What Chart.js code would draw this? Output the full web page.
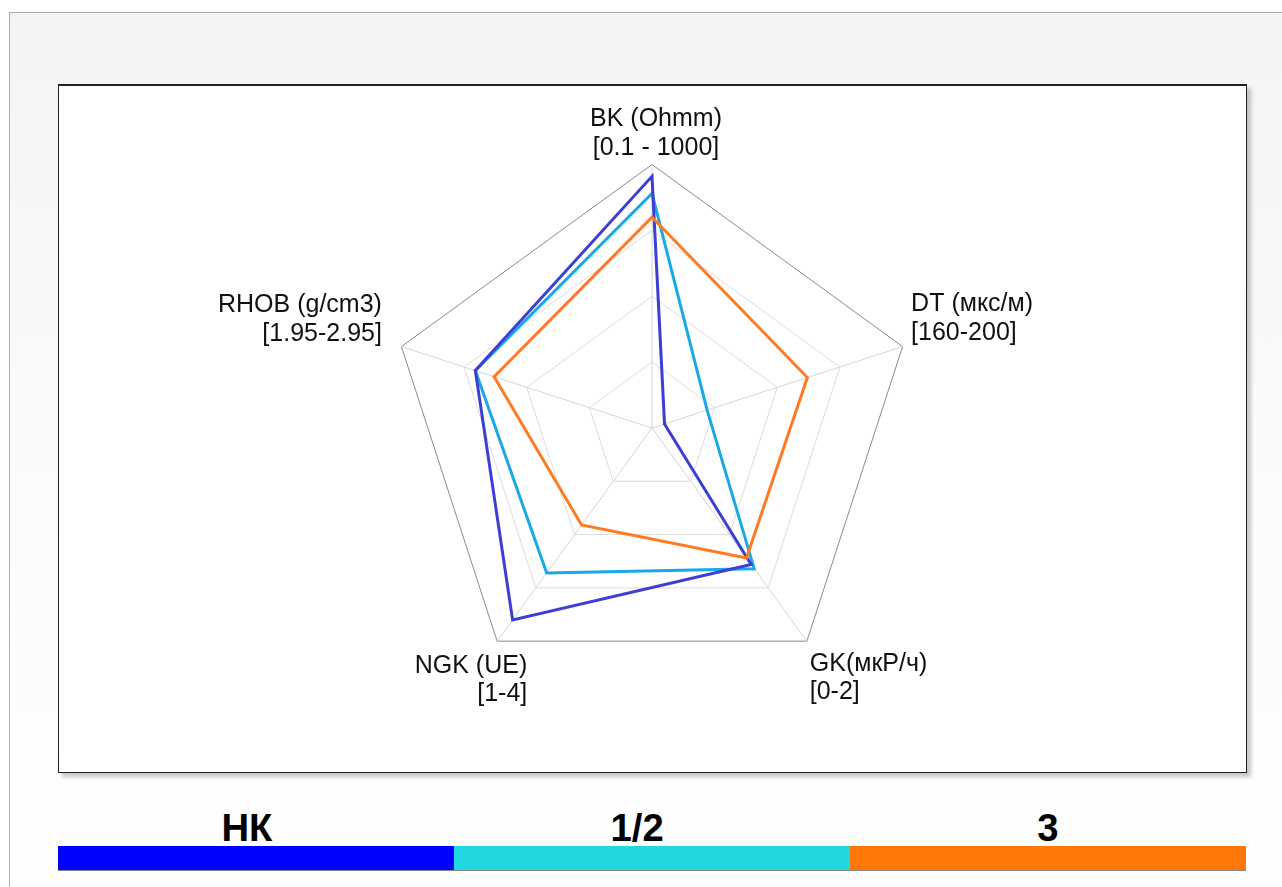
<!DOCTYPE html>
<html>
<head>
<meta charset="utf-8">
<script src="https://cdn.jsdelivr.net/npm/chart.js@4"></script>
<style>
  html, body { margin: 0; padding: 0; background: #fff; }
  body { width: 1282px; height: 887px; position: relative; overflow: hidden; font-family: "Liberation Sans", Arial, sans-serif; }
  #panel {
    position: absolute; left: 9px; top: 12px; right: 0; bottom: 0;
    border-top: 1px solid #a8a8a8; border-left: 1px solid #b0b0b0;
    background: linear-gradient(#f4f4f4, #fcfcfc 60%, #fefefe);
  }
  #box {
    position: absolute; left: 58px; top: 84px; width: 1187px; height: 686px;
    background: #fff; border: 1px solid #222; border-top-width: 2px;
    box-shadow: 4px 4px 4px rgba(0,0,0,0.22); overflow: hidden;
  }
  #myChart { position: absolute; left: 0; top: -21px; }
  #legend { position: absolute; left: 58px; top: 806px; width: 1188px; }
  .cell { float: left; width: 396px; }
  .cell .lbl {
    height: 40px; line-height: 44px; text-align: center;
    font-family: "Liberation Sans Narrow", "Liberation Sans", Arial, sans-serif;
    font-weight: bold; font-size: 39px; color: #000;
  }
  .cell .lbl span { display: inline-block; transform: scaleX(0.98); }
  .cell .bar { height: 24px; border-bottom: 1px solid #888; }
</style>
</head>
<body>
<div id="panel"></div>
<div id="box"><canvas id="myChart" width="1187" height="708"></canvas></div>
<div id="legend"></div>
<script>
// axes, clockwise from the top
var axisLabels = [
    ["BK (Ohmm)", "[0.1 - 1000]"],
    ["DT (мкс/м)", "[160-200]"],
    ["GK(мкР/ч)", "[0-2]"],
    ["NGK (UE)", "[1-4]"],
    ["RHOB (g/cm3)", "[1.95-2.95]"]
];

// normalised values (0..1) per axis
var seriesNames = ["НК", "1/2", "3"];
var valuesNK = [0.955, 0.05, 0.64, 0.90, 0.705];
var values12 = [0.89, 0.22, 0.66, 0.68, 0.705];
var values3 = [0.80, 0.62, 0.61, 0.455, 0.63];

var lineColors = ['#3b3fd2', '#19a9e6', '#ff7b22'];
var legendColors = ['#0000ff', '#22d8e0', '#ff7708'];
var legendNudge = [-9, -15, 0];

// small nudges of the axis captions
var captionShiftX = [4, -1, -3, 36, -10];
var captionShiftY = [8, 4, 0, 2, 5];

// legend strip under the chart
var legend = document.getElementById('legend');
for (var i = 0; i < seriesNames.length; i++) {
    legend.insertAdjacentHTML('beforeend',
        '<div class="cell"><div class="lbl" style="padding-right:' + (-2 * legendNudge[i]) + 'px">' +
        '<span>' + seriesNames[i] + '</span></div>' +
        '<div class="bar" style="background:' + legendColors[i] + '"></div></div>');
}

var labelFont = { family: '"Liberation Sans", Arial, sans-serif', size: 25, lineHeight: 1.15 };

// draws the axis captions where chart.js would, with a small shift
var captionPlugin = {
    id: 'captions',
    afterDraw: function(chart) {
        var scale = chart.scales.r;
        var c = chart.ctx;
        var lh = labelFont.size * labelFont.lineHeight;
        c.save();
        c.font = labelFont.size + 'px ' + labelFont.family;
        c.fillStyle = '#111';
        c.textBaseline = 'middle';
        for (var i = 0; i < axisLabels.length; i++) {
            var p = scale.getPointPosition(i, scale.drawingArea + 10);
            var deg = i * 360 / axisLabels.length;
            var h = lh * axisLabels[i].length;
            var y = p.y + captionShiftY[i];
            if (deg < 90 || deg > 270) y -= h;
            c.textAlign = (deg === 0) ? 'center' : (deg < 180 ? 'left' : 'right');
            for (var j = 0; j < axisLabels[i].length; j++) {
                c.fillText(axisLabels[i][j], p.x + captionShiftX[i], y + lh * j + lh / 2);
            }
        }
        c.restore();
    }
};

var ctx = document.getElementById('myChart');
var myChart = new Chart(ctx, {
    type: 'radar',
    data: {
        labels: axisLabels,
        datasets: [{
            label: seriesNames[0],
            data: valuesNK,
            borderColor: lineColors[0],
            order: 1
        }, {
            label: seriesNames[1],
            data: values12,
            borderColor: lineColors[1],
            order: 2
        }, {
            label: seriesNames[2],
            data: values3,
            borderColor: lineColors[2],
            order: 0
        }]
    },
    plugins: [captionPlugin],
    options: {
        responsive: false,
        animation: false,
        layout: { padding: { top: 0, bottom: 45, left: 0, right: 0 } },
        elements: {
            line: { borderWidth: 3, fill: false, tension: 0 },
            point: { radius: 0, hitRadius: 0 }
        },
        plugins: {
            legend: { display: false },
            tooltip: { enabled: false }
        },
        scales: {
            r: {
                min: 0,
                max: 1,
                ticks: { display: false, stepSize: 0.25 },
                grid: {
                    color: function(c) { return c.index === 4 ? '#8a8a8a' : '#dcdcdc'; },
                    lineWidth: 1
                },
                angleLines: { color: '#d4d4d4', lineWidth: 1 },
                pointLabels: {
                    color: 'rgba(0,0,0,0)',
                    padding: 10,
                    font: labelFont
                }
            }
        }
    }
});
</script>
</body>
</html>
